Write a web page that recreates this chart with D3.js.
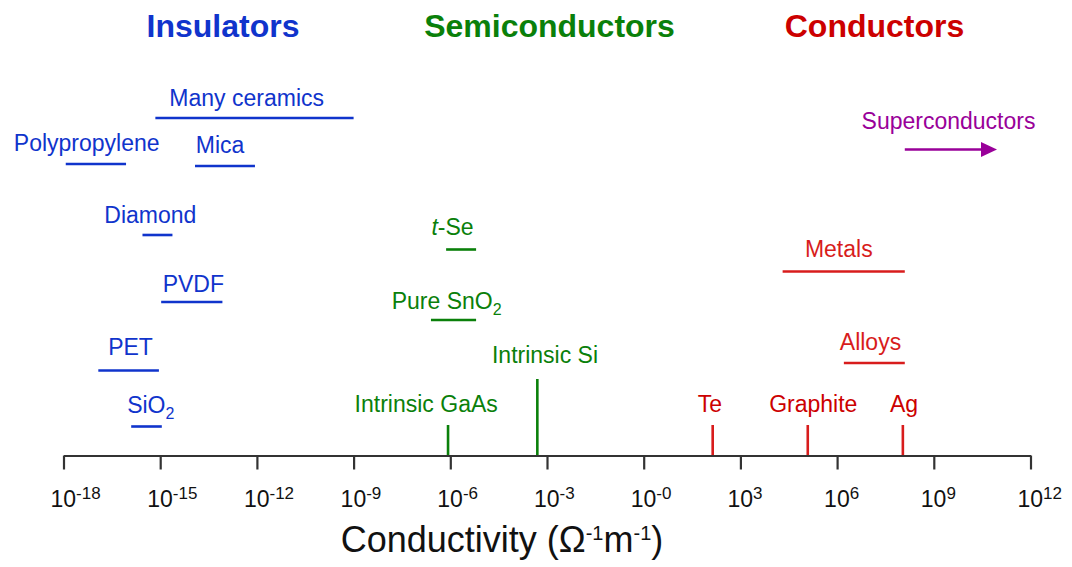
<!DOCTYPE html>
<html>
<head>
<meta charset="utf-8">
<script src="https://cdn.jsdelivr.net/npm/d3@7"></script>
<style>
  html, body { margin: 0; padding: 0; background: #fff; }
  svg { display: block; font-family: "Liberation Sans", Arial, sans-serif; }
</style>
</head>
<body>
<svg id="chart" width="1072" height="567"></svg>
<script>
// Conductivity ranges, stored as log10 of conductivity (Ω⁻¹m⁻¹)
const tickExponents = [-18, -15, -12, -9, -6, -3, 0, 3, 6, 9, 12];
const tickLabels = ["-18", "-15", "-12", "-9", "-6", "-3", "-0", "3", "6", "9", "12"];
const classNames = ["Insulators", "Semiconductors", "Conductors"];

const insulatorNames = ["Many ceramics", "Polypropylene", "Mica", "Diamond", "PVDF", "PET", "SiO2"];
const insulatorLow  = [-15.15, -17.93, -13.92, -15.55, -14.97, -16.92, -15.90];
const insulatorHigh = [-9.00, -16.06, -12.06, -14.62, -13.07, -15.04, -14.95];

const semiRangeNames = ["t-Se", "Pure SnO2"];
const semiRangeLow  = [-6.13, -6.60];
const semiRangeHigh = [-5.20, -5.20];

const semiPointNames = ["Intrinsic GaAs", "Intrinsic Si"];
const semiPointValues = [-6.07, -3.30];

const conductorRangeNames = ["Metals", "Alloys"];
const conductorRangeLow  = [4.31, 6.21];
const conductorRangeHigh = [8.10, 8.10];

const conductorPointNames = ["Te", "Graphite", "Ag"];
const conductorPointValues = [2.14, 5.09, 8.04];

const superconductorName = "Superconductors";
const superconductorFrom = 8.10;
const superconductorTo = 10.96;

// ---- drawing ----
const svg = d3.select("#chart");
const colors = { Insulators: "#1034cc", Semiconductors: "#0a800a", Conductors: "#cc0000" };
const markRed = "#d81c1c";
const purple = "#990099";

const x = d3.scaleLog().domain([1e-18, 1e12]).range([63.5, 1030.5]);
const px = e => x(Math.pow(10, e));
const axisY = 455.5;

// row placement of each mark and its label (layout only)
const layout = {
  "Many ceramics":  { y: 118,   lx: 246.7, ly: 105.5 },
  "Polypropylene":  { y: 164,   lx: 86.7,  ly: 151 },
  "Mica":           { y: 166,   lx: 220,   ly: 153.3 },
  "Diamond":        { y: 235,   lx: 150.3, ly: 222.7 },
  "PVDF":           { y: 302,   lx: 193.3, ly: 292.3 },
  "PET":            { y: 370.5, lx: 130.5, ly: 355 },
  "SiO2":           { y: 426.5, lx: 150.8, ly: 413.3 },
  "t-Se":           { y: 249.5, lx: 452.5, ly: 235 },
  "Pure SnO2":      { y: 320,   lx: 446.7, ly: 309 },
  "Intrinsic GaAs": { top: 425, lx: 426.2, ly: 411.7 },
  "Intrinsic Si":   { top: 379, lx: 545,   ly: 363.3 },
  "Metals":         { y: 271.5, lx: 838.8, ly: 256.7 },
  "Alloys":         { y: 363,   lx: 870.5, ly: 350 },
  "Te":             { top: 425, lx: 710,   ly: 411.7 },
  "Graphite":       { top: 425, lx: 813.3, ly: 411.7 },
  "Ag":             { top: 425, lx: 904,   ly: 411.7 },
  "Superconductors":{ y: 149.5, lx: 948.5, ly: 128.7 }
};
const headerX = [223, 549.5, 874.5];

// class headers
svg.selectAll("text.header").data(classNames).join("text")
  .attr("class", "header")
  .attr("x", (d, i) => headerX[i]).attr("y", 37)
  .attr("text-anchor", "middle")
  .attr("font-size", 32).attr("font-weight", "bold")
  .attr("fill", d => colors[d])
  .text(d => d);

// label writer: handles subscripts and the italic prefix of t-Se
function writeLabel(sel, name) {
  if (name.endsWith("O2")) {
    sel.append("tspan").text(name.slice(0, -1));
    sel.append("tspan").attr("font-size", 16).attr("dy", 6).text("2");
  } else if (name === "t-Se") {
    sel.append("tspan").attr("font-style", "italic").text("t");
    sel.append("tspan").text("-Se");
  } else {
    sel.text(name);
  }
}

function drawRanges(names, lows, highs, color) {
  const rows = names.map((n, i) => ({ name: n, lo: lows[i], hi: highs[i] }));
  svg.append("g").selectAll("line").data(rows).join("line")
    .attr("x1", d => px(d.lo)).attr("x2", d => px(d.hi))
    .attr("y1", d => layout[d.name].y).attr("y2", d => layout[d.name].y)
    .attr("stroke", color).attr("stroke-width", 2.6);
  svg.append("g").selectAll("text").data(rows).join("text")
    .attr("x", d => layout[d.name].lx).attr("y", d => layout[d.name].ly)
    .attr("text-anchor", "middle").attr("font-size", 23).attr("fill", color)
    .each(function (d) { writeLabel(d3.select(this), d.name); });
}

function drawPoints(names, values, color, lineColor) {
  const rows = names.map((n, i) => ({ name: n, v: values[i] }));
  svg.append("g").selectAll("line").data(rows).join("line")
    .attr("x1", d => px(d.v)).attr("x2", d => px(d.v))
    .attr("y1", d => layout[d.name].top).attr("y2", axisY)
    .attr("stroke", lineColor).attr("stroke-width", 2.6);
  svg.append("g").selectAll("text").data(rows).join("text")
    .attr("x", d => layout[d.name].lx).attr("y", d => layout[d.name].ly)
    .attr("text-anchor", "middle").attr("font-size", 23).attr("fill", color)
    .each(function (d) { writeLabel(d3.select(this), d.name); });
}

drawRanges(insulatorNames, insulatorLow, insulatorHigh, colors.Insulators);
drawRanges(semiRangeNames, semiRangeLow, semiRangeHigh, colors.Semiconductors);
drawPoints(semiPointNames, semiPointValues, colors.Semiconductors, colors.Semiconductors);
drawRanges(conductorRangeNames, conductorRangeLow, conductorRangeHigh, markRed);
drawPoints(conductorPointNames, conductorPointValues, colors.Conductors, markRed);

// superconductors arrow
const sc = layout[superconductorName];
const ax0 = px(superconductorFrom), ax1 = px(superconductorTo);
svg.append("line")
  .attr("x1", ax0).attr("x2", ax1 - 12).attr("y1", sc.y).attr("y2", sc.y)
  .attr("stroke", purple).attr("stroke-width", 2.6);
svg.append("path")
  .attr("d", `M${ax1 - 16},${sc.y - 7.5} L${ax1},${sc.y} L${ax1 - 16},${sc.y + 7.5} Z`)
  .attr("fill", purple);
svg.append("text")
  .attr("x", sc.lx).attr("y", sc.ly).attr("text-anchor", "middle")
  .attr("font-size", 23).attr("fill", purple)
  .text(superconductorName);

// axis
const axis = d3.axisBottom(x)
  .tickValues(tickExponents.map(e => Math.pow(10, e)))
  .tickFormat("")
  .tickSize(14)
  .tickSizeOuter(0);
const gAxis = svg.append("g").attr("transform", `translate(0,${axisY})`).call(axis);
gAxis.select(".domain").attr("stroke", "#333").attr("stroke-width", 2.2);
gAxis.selectAll(".tick line").attr("stroke", "#333").attr("stroke-width", 2.2);

// tick labels: 10 with superscript exponent
const tl = svg.append("g").selectAll("text").data(tickExponents).join("text")
  .attr("x", d => px(d) - 13).attr("y", 506.5)
  .attr("font-size", 23).attr("fill", "#111");
tl.append("tspan").text("10");
tl.append("tspan").attr("font-size", 17).attr("dy", -8).text((d, i) => tickLabels[i]);

// axis title
const title = svg.append("text")
  .attr("x", 502).attr("y", 552).attr("text-anchor", "middle")
  .attr("font-size", 36).attr("fill", "#111");
title.append("tspan").text("Conductivity (Ω");
title.append("tspan").attr("font-size", 20).attr("dy", -12).text("-1");
title.append("tspan").attr("dy", 12).text("m");
title.append("tspan").attr("font-size", 20).attr("dy", -12).text("-1");
title.append("tspan").attr("dy", 12).text(")");
</script>
</body>
</html>
